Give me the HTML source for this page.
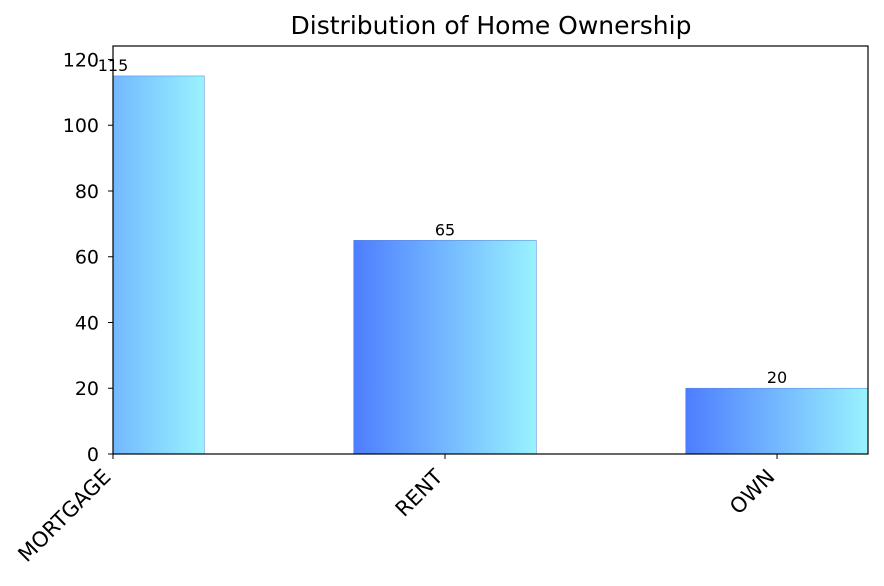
<!DOCTYPE html>
<html><head><meta charset="utf-8"><style>
body{margin:0;background:#fff;font-family:"DejaVu Sans","Liberation Sans",sans-serif}
svg text{font-family:"DejaVu Sans","Liberation Sans",sans-serif}
</style></head><body>
<svg id="chart" width="884" height="582" xmlns="http://www.w3.org/2000/svg">
<defs>
<linearGradient id="grad" x1="0" y1="0" x2="1" y2="0">
<stop offset="0" stop-color="#4d7dff"/><stop offset="1" stop-color="#99f2ff"/>
</linearGradient>
<clipPath id="plotclip"><rect x="113" y="46" width="755" height="408"/></clipPath>
</defs>
<text x="491" y="34" font-size="25" text-anchor="middle" fill="#000">Distribution of Home Ownership</text>
<g id="bars" clip-path="url(#plotclip)"></g>
<g id="labels"></g>
<rect x="113" y="46" width="755" height="408" fill="none" stroke="#000" stroke-width="1.2"/>
<g id="yaxis"></g><g id="xaxis"></g>
</svg>
<script>
const categories=["MORTGAGE","RENT","OWN"];
const counts=[115,65,20];
const yTicks=[0,20,40,60,80,100,120];
const NS="http://www.w3.org/2000/svg";
const L=113,R=868,T=46,B=454;
const xMin=0,xMax=2.274,yMax=124.1;
const xs=v=>L+(v-xMin)/(xMax-xMin)*(R-L);
const ys=v=>B-v/yMax*(B-T);
const bw=0.55;
function mk(t,a,p){const e=document.createElementNS(NS,t);for(const k in a)e.setAttribute(k,a[k]);p.appendChild(e);return e;}
const bars=document.getElementById('bars'),labels=document.getElementById('labels'),ya=document.getElementById('yaxis'),xa=document.getElementById('xaxis');
categories.forEach((c,i)=>{
 const x0=xs(i-bw/2),x1=xs(i+bw/2),y=ys(counts[i]);
 const r=mk('rect',{x:x0,y:y,width:x1-x0,height:B-y,fill:'url(#grad)',stroke:'#3a6fd0','stroke-width':0.6,'stroke-opacity':0.7},bars);
 
 
 const t=mk('text',{x:xs(i),y:y-5,'font-size':16,'text-anchor':'middle'},labels);
 t.textContent=counts[i];
 
 
 mk('line',{x1:xs(i),x2:xs(i),y1:B,y2:B+5,stroke:'#000','stroke-width':1},xa);
 const tl=mk('text',{transform:`translate(${xs(i)-1},${B+24}) rotate(-45)`,'font-size':21,'text-anchor':'end'},xa);
 tl.textContent=c;
 
 
});
yTicks.forEach(v=>{
 mk('line',{x1:L-5,x2:L,y1:ys(v),y2:ys(v),stroke:'#000','stroke-width':1},ya);
 const t=mk('text',{x:L-14,y:ys(v)+7,'font-size':19,'text-anchor':'end'},ya);
 t.textContent=v;
 
 
});
</script>
</body></html>
